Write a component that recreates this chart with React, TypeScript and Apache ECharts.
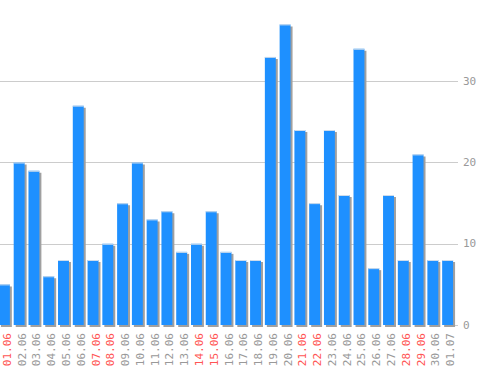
import React, { useEffect, useRef } from "react";
import * as echarts from "echarts";

const categories = [
  "01.06", "02.06", "03.06", "04.06", "05.06", "06.06", "07.06", "08.06",
  "09.06", "10.06", "11.06", "12.06", "13.06", "14.06", "15.06", "16.06",
  "17.06", "18.06", "19.06", "20.06", "21.06", "22.06", "23.06", "24.06",
  "25.06", "26.06", "27.06", "28.06", "29.06", "30.06", "01.07",
];
const values = [
  5, 20, 19, 6, 8, 27, 8, 10, 15, 20, 13, 14, 9, 10, 14, 9,
  8, 8, 33, 37, 24, 15, 24, 16, 34, 7, 16, 8, 21, 8, 8,
];
const weekendLabels = ["01.06", "07.06", "08.06", "14.06", "15.06", "21.06", "22.06", "28.06", "29.06"];
const yTicks = [0, 10, 20, 30, 40];

export default function App() {
  const ref = useRef<HTMLDivElement>(null);
  useEffect(() => {
    if (!ref.current) return;
    const chart = echarts.init(ref.current, null, { renderer: "svg" });
    const mono = "'DejaVu Sans Mono', 'Liberation Mono', monospace";
    chart.setOption({
      animation: false,
      grid: { left: 0, right: 40, top: 0, bottom: 45, containLabel: false },
      xAxis: {
        type: "category",
        data: categories,
        boundaryGap: true,
        axisLine: { show: false },
        axisTick: { show: false },
        splitLine: { show: false },
        axisLabel: {
          interval: 0,
          rotate: 90,
          margin: 8,
          fontSize: 11,
          fontFamily: mono,
          color: (v: string) => (weekendLabels.includes(v) ? "#ff5555" : "#999999"),
        },
      },
      yAxis: {
        type: "value",
        position: "right",
        min: yTicks[0],
        max: yTicks[yTicks.length - 1],
        interval: 10,
        axisLine: { show: false },
        axisTick: { show: true, inside: true, length: 3, lineStyle: { color: "#cccccc" } },
        splitLine: { show: true, showMinLine: false, showMaxLine: false, lineStyle: { color: "#cccccc" } },
        axisLabel: {
          showMaxLabel: false,
          margin: 5,
          fontSize: 11,
          fontFamily: mono,
          color: "#999999",
        },
      },
      series: [
        {
          type: "custom",
          data: values.map((v, i) => [i, v]),
          encode: { x: 0, y: 1 },
          renderItem: (params: any, api: any) => {
            const idx = api.value(0);
            const val = api.value(1);
            const top = api.coord([idx, val]);
            const base = api.coord([idx, 0]);
            const band = api.size([1, 0])[0];
            const w = band * 0.74;
            const x = top[0] - w / 2 - 3;
            const h = base[1] - top[1];
            return {
              type: "group",
              children: [
                { type: "rect", shape: { x: x + 2, y: top[1] + 2, width: w, height: h }, style: { fill: "#a0a0a0" } },
                { type: "rect", shape: { x, y: top[1], width: w, height: h }, style: { fill: "#1e90ff" } },
                { type: "rect", shape: { x, y: top[1], width: w, height: 1 }, style: { fill: "#cfdcea" } },
              ],
            };
          },
        },
      ],
    });
    return () => chart.dispose();
  }, []);
  return (
    <div
      ref={ref}
      style={{ position: "absolute", left: 0, top: 0, width: 498, height: 370, background: "#ffffff" }}
    />
  );
}
